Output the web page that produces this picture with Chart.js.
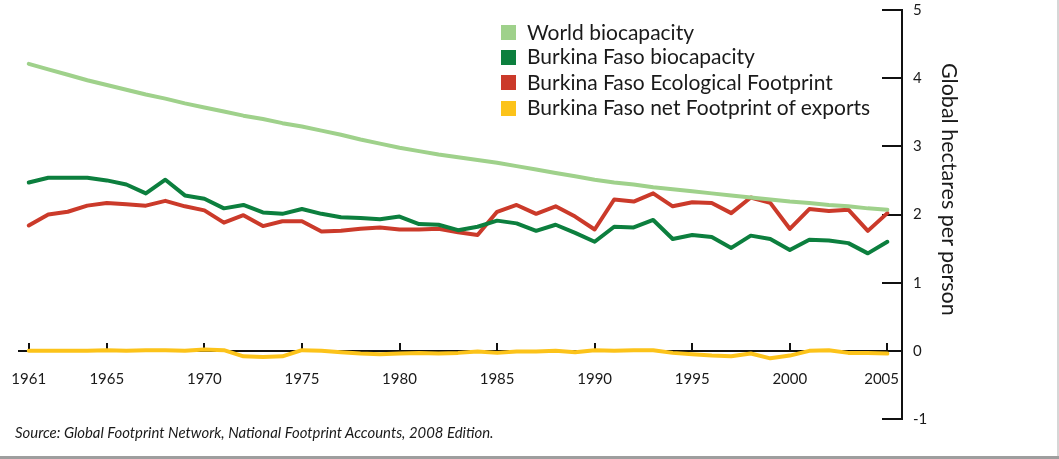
<!DOCTYPE html>
<html><head><meta charset="utf-8">
<script src="https://cdn.jsdelivr.net/npm/chart.js@4.4.0/dist/chart.umd.min.js"></script>
<style>
html,body{margin:0;padding:0;background:#fff;}
#wrap{position:relative;width:1059px;height:459px;overflow:hidden;font-family:Lato,"Open Sans",sans-serif;color:#1a1a1a;}
canvas{position:absolute;left:0;top:0;}
.sq{position:absolute;left:501px;width:15px;height:15px;}
.lt{position:absolute;left:527px;font-size:21px;line-height:24px;white-space:nowrap;}
#src{position:absolute;left:15px;top:423px;font-size:14.9px;font-style:italic;line-height:18px;white-space:nowrap;}
#ytitle{position:absolute;left:938px;top:63px;font-size:21.5px;line-height:24px;writing-mode:vertical-rl;white-space:nowrap;}
#rb{position:absolute;left:1057px;top:0;width:2px;height:459px;background:#d6d6d6;}
#bb{position:absolute;left:0;top:456px;width:1059px;height:3px;background:#9e9e9e;}
</style></head>
<body>
<div id="wrap">
<canvas id="c" width="1059" height="459"></canvas>
<div id="legend"></div>
<div id="src">Source: Global Footprint Network, National Footprint Accounts, 2008 Edition.</div>
<div id="ytitle">Global hectares per person</div>
<div id="rb"></div><div id="bb"></div>
</div>
<script>
const years = [1961,1962,1963,1964,1965,1966,1967,1968,1969,1970,1971,1972,1973,1974,1975,1976,1977,1978,1979,1980,1981,1982,1983,1984,1985,1986,1987,1988,1989,1990,1991,1992,1993,1994,1995,1996,1997,1998,1999,2000,2001,2002,2003,2004,2005];
const worldBiocapacity = [4.21,4.13,4.05,3.97,3.90,3.83,3.76,3.70,3.63,3.57,3.51,3.45,3.40,3.34,3.29,3.23,3.17,3.10,3.04,2.98,2.93,2.88,2.84,2.80,2.76,2.71,2.66,2.61,2.56,2.51,2.47,2.44,2.40,2.37,2.34,2.31,2.28,2.25,2.22,2.19,2.17,2.14,2.12,2.09,2.07];
const bfBiocapacity = [2.47,2.54,2.54,2.54,2.50,2.44,2.31,2.51,2.28,2.23,2.09,2.14,2.03,2.01,2.08,2.01,1.96,1.95,1.93,1.97,1.86,1.85,1.77,1.82,1.91,1.87,1.76,1.85,1.73,1.60,1.82,1.81,1.92,1.64,1.70,1.67,1.51,1.69,1.64,1.48,1.63,1.62,1.58,1.43,1.60];
const bfFootprint = [1.84,2.00,2.04,2.13,2.17,2.15,2.13,2.20,2.12,2.06,1.88,1.99,1.83,1.90,1.90,1.75,1.76,1.79,1.81,1.78,1.78,1.79,1.74,1.70,2.04,2.14,2.01,2.12,1.97,1.78,2.22,2.19,2.31,2.12,2.18,2.17,2.02,2.25,2.17,1.79,2.08,2.05,2.07,1.76,2.02];
const bfNetExports = [0,0,0,0,0.01,0,0.01,0.01,0,0.02,0.01,-0.08,-0.09,-0.08,0.01,0,-0.02,-0.04,-0.05,-0.04,-0.03,-0.04,-0.03,-0.01,-0.03,-0.01,-0.01,0,-0.02,0.01,0,0.01,0.01,-0.03,-0.05,-0.07,-0.08,-0.04,-0.11,-0.07,0,0.01,-0.03,-0.03,-0.04];
const xTickYears = [1961,1965,1970,1975,1980,1985,1990,1995,2000,2005];
const yTickValues = [-1,0,1,2,3,4,5];
const seriesNames = ["World biocapacity","Burkina Faso biocapacity","Burkina Faso Ecological Footprint","Burkina Faso net Footprint of exports"];
const seriesColors = ["#9fd18b","#0c7f3e","#cb3a2a","#fcc31a"];

const seriesData = [worldBiocapacity, bfBiocapacity, bfFootprint, bfNetExports];
const legendTops = [32.5, 57, 82.5, 108];
const lg = document.getElementById('legend');
seriesNames.forEach((n,i)=>{
  const s=document.createElement('div'); s.className='sq'; s.style.top=(legendTops[i]-7.5)+'px'; s.style.background=seriesColors[i]; lg.appendChild(s);
  const t=document.createElement('div'); t.className='lt'; t.style.top=(legendTops[i]-13)+'px'; t.textContent=n; lg.appendChild(t);
});

const datasets = seriesData.map((arr,i)=>({
  label: seriesNames[i],
  data: years.map((y,j)=>({x:y, y:arr[j]})),
  borderColor: seriesColors[i],
  backgroundColor: seriesColors[i],
  borderWidth: 4,
  pointRadius: 0,
  tension: 0,
  borderCapStyle: 'round',
  borderJoinStyle: 'round',
  fill: false
}));

const lastYear = xTickYears[xTickYears.length - 1];

new Chart(document.getElementById('c'), {
  type: 'line',
  data: { datasets },
  options: {
    responsive: false,
    animation: false,
    layout: { padding: { left: 19, top: 10, bottom: 40, right: 0 } },
    plugins: { legend: { display: false }, tooltip: { enabled: false } },
    scales: {
      x: {
        type: 'linear', min: 1960.5, max: 2005.75,
        position: { y: 0 },
        afterBuildTicks: s => { s.ticks = xTickYears.map(v => ({ value: v })); },
        afterFit: s => { s.height = 0; s.paddingLeft = 0; s.paddingRight = 0; },
        grid: { drawOnChartArea: false, drawTicks: true, tickLength: -9, color: '#111', lineWidth: 2 },
        border: { display: true, color: '#111', width: 2 },
        ticks: { padding: 28, autoSkip: false, maxRotation: 0, color: '#1a1a1a', font: { family: 'Lato', size: 15 },
          callback: v => v === lastYear ? String(v) + '   ' : String(v) }
      },
      y: {
        type: 'linear', position: 'right', min: -1, max: 5,
        afterBuildTicks: s => { s.ticks = yTickValues.map(v => ({ value: v })); },
        afterFit: s => { s.width = 157; s.paddingTop = 0; s.paddingBottom = 0; },
        grid: { drawOnChartArea: false, drawTicks: true, tickLength: -20, color: '#111', lineWidth: 2 },
        border: { display: true, color: '#111', width: 2 },
        ticks: { padding: 31, color: '#1a1a1a', font: { family: 'Lato', size: 15 }, callback: v => String(v) }
      }
    }
  }
});
</script>
</body></html>
